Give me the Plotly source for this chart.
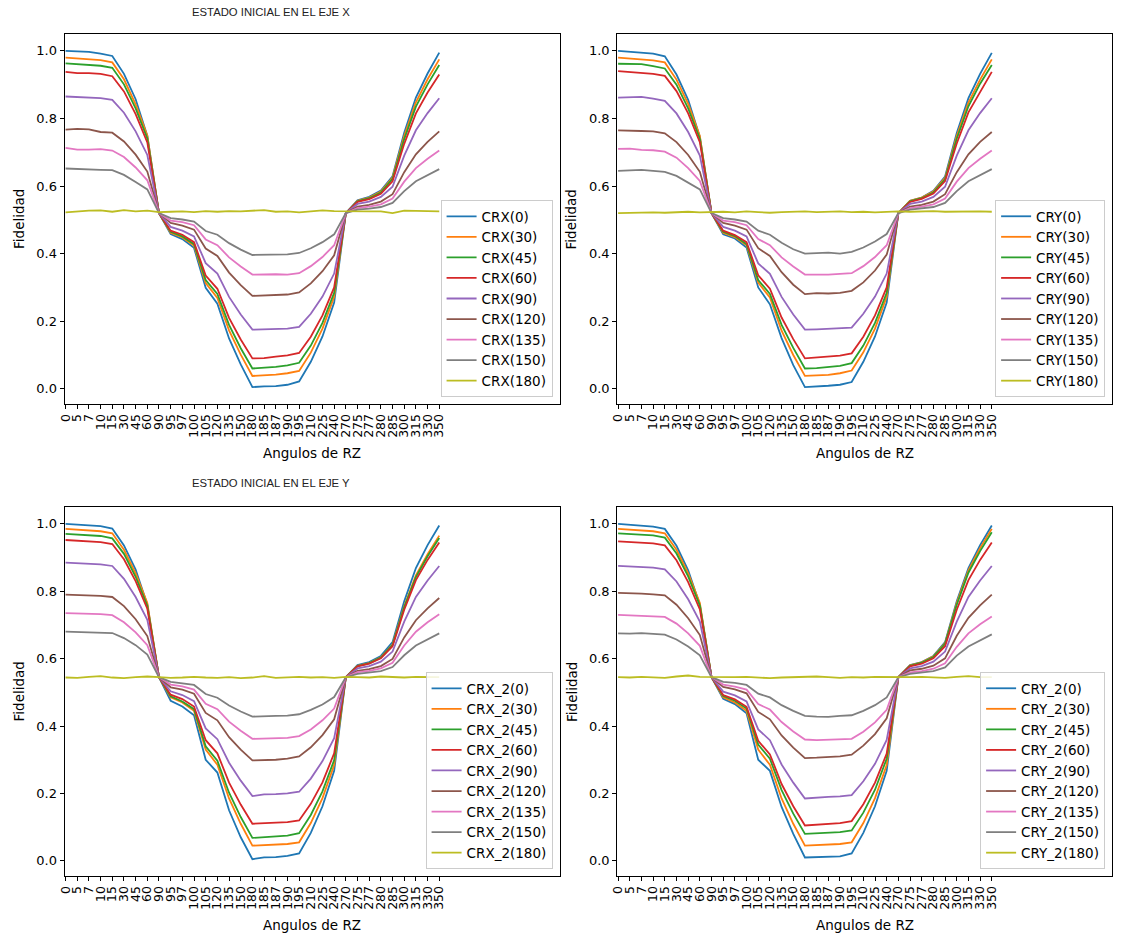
import plotly.graph_objects as go

# ---------------- data ----------------
angles = ["0", "5", "7", "10", "15", "30", "45", "60", "90", "95", "97", "100", "105",
          "120", "135", "150", "180", "185", "187", "190", "195", "210", "225", "240",
          "270", "275", "277", "280", "285", "300", "315", "330", "350"]
gate_angles = ["0", "30", "45", "60", "90", "120", "135", "150", "180"]

# --- CRX (estado inicial eje X) ---
crx_0 = [1.000, 0.998, 0.997, 0.992, 0.985, 0.932, 0.857, 0.748, 0.520, 0.458, 0.443, 0.417, 0.299, 0.252, 0.149, 0.072, 0.005, 0.007, 0.008, 0.012, 0.022, 0.080, 0.155, 0.255, 0.520, 0.558, 0.568, 0.587, 0.629, 0.758, 0.862, 0.933, 0.995]
crx_30 = [0.980, 0.978, 0.977, 0.973, 0.966, 0.916, 0.842, 0.750, 0.520, 0.462, 0.448, 0.424, 0.313, 0.269, 0.173, 0.101, 0.038, 0.039, 0.042, 0.046, 0.053, 0.107, 0.178, 0.272, 0.520, 0.556, 0.566, 0.584, 0.625, 0.748, 0.848, 0.916, 0.975]
crx_45 = [0.963, 0.961, 0.960, 0.956, 0.950, 0.901, 0.830, 0.741, 0.520, 0.465, 0.451, 0.428, 0.322, 0.281, 0.189, 0.120, 0.060, 0.062, 0.065, 0.069, 0.077, 0.128, 0.195, 0.284, 0.520, 0.555, 0.564, 0.581, 0.621, 0.739, 0.835, 0.901, 0.958]
crx_60 = [0.938, 0.934, 0.934, 0.932, 0.925, 0.880, 0.813, 0.729, 0.520, 0.468, 0.456, 0.434, 0.335, 0.296, 0.210, 0.146, 0.090, 0.091, 0.095, 0.099, 0.106, 0.154, 0.217, 0.300, 0.520, 0.553, 0.561, 0.577, 0.614, 0.725, 0.815, 0.877, 0.930]
crx_90 = [0.865, 0.864, 0.863, 0.860, 0.855, 0.817, 0.762, 0.692, 0.520, 0.479, 0.468, 0.451, 0.372, 0.341, 0.272, 0.220, 0.175, 0.176, 0.177, 0.178, 0.183, 0.222, 0.273, 0.341, 0.520, 0.547, 0.554, 0.568, 0.598, 0.690, 0.765, 0.816, 0.860]
crx_120 = [0.767, 0.769, 0.768, 0.760, 0.758, 0.732, 0.693, 0.643, 0.520, 0.491, 0.483, 0.471, 0.415, 0.393, 0.344, 0.307, 0.275, 0.276, 0.278, 0.279, 0.285, 0.312, 0.348, 0.395, 0.520, 0.539, 0.544, 0.554, 0.576, 0.641, 0.694, 0.731, 0.762]
crx_135 = [0.713, 0.708, 0.708, 0.709, 0.705, 0.686, 0.655, 0.617, 0.520, 0.498, 0.493, 0.484, 0.442, 0.425, 0.389, 0.362, 0.338, 0.339, 0.339, 0.338, 0.342, 0.363, 0.390, 0.425, 0.520, 0.535, 0.539, 0.546, 0.563, 0.613, 0.653, 0.681, 0.705]
crx_150 = [0.652, 0.650, 0.648, 0.648, 0.647, 0.633, 0.612, 0.590, 0.520, 0.505, 0.501, 0.495, 0.467, 0.456, 0.431, 0.412, 0.396, 0.397, 0.397, 0.398, 0.402, 0.416, 0.434, 0.457, 0.520, 0.530, 0.533, 0.538, 0.550, 0.585, 0.614, 0.633, 0.650]
crx_180 = [0.522, 0.525, 0.527, 0.528, 0.524, 0.529, 0.525, 0.527, 0.523, 0.524, 0.525, 0.523, 0.526, 0.524, 0.526, 0.525, 0.527, 0.529, 0.524, 0.525, 0.522, 0.525, 0.528, 0.526, 0.525, 0.524, 0.525, 0.525, 0.520, 0.527, 0.526, 0.525, 0.525]

# --- CRY (estado inicial eje X) ---
cry_0 = [1.000, 0.998, 0.996, 0.992, 0.984, 0.930, 0.855, 0.745, 0.520, 0.457, 0.445, 0.418, 0.300, 0.250, 0.150, 0.070, 0.005, 0.006, 0.009, 0.012, 0.020, 0.080, 0.155, 0.255, 0.520, 0.556, 0.566, 0.586, 0.628, 0.757, 0.860, 0.932, 0.994]
cry_30 = [0.980, 0.977, 0.976, 0.972, 0.966, 0.915, 0.843, 0.748, 0.520, 0.462, 0.449, 0.425, 0.314, 0.270, 0.172, 0.100, 0.038, 0.040, 0.041, 0.046, 0.054, 0.108, 0.178, 0.272, 0.520, 0.556, 0.566, 0.584, 0.624, 0.748, 0.847, 0.915, 0.975]
cry_45 = [0.962, 0.961, 0.961, 0.955, 0.948, 0.900, 0.830, 0.740, 0.520, 0.465, 0.452, 0.428, 0.322, 0.281, 0.189, 0.121, 0.060, 0.061, 0.064, 0.068, 0.076, 0.128, 0.195, 0.284, 0.520, 0.555, 0.564, 0.581, 0.620, 0.740, 0.836, 0.903, 0.958]
cry_60 = [0.940, 0.937, 0.936, 0.932, 0.926, 0.881, 0.815, 0.730, 0.520, 0.468, 0.455, 0.434, 0.336, 0.296, 0.211, 0.147, 0.090, 0.092, 0.094, 0.098, 0.105, 0.154, 0.217, 0.300, 0.520, 0.553, 0.562, 0.578, 0.615, 0.726, 0.818, 0.880, 0.938]
cry_90 = [0.862, 0.862, 0.864, 0.859, 0.852, 0.815, 0.760, 0.690, 0.520, 0.479, 0.468, 0.451, 0.371, 0.340, 0.272, 0.220, 0.175, 0.176, 0.178, 0.180, 0.181, 0.222, 0.273, 0.341, 0.520, 0.547, 0.554, 0.568, 0.598, 0.690, 0.765, 0.816, 0.860]
cry_120 = [0.765, 0.765, 0.763, 0.762, 0.756, 0.730, 0.692, 0.642, 0.520, 0.491, 0.483, 0.471, 0.416, 0.393, 0.345, 0.308, 0.280, 0.283, 0.282, 0.284, 0.290, 0.315, 0.350, 0.397, 0.520, 0.539, 0.544, 0.554, 0.576, 0.641, 0.694, 0.731, 0.760]
cry_135 = [0.710, 0.711, 0.707, 0.706, 0.702, 0.684, 0.653, 0.615, 0.520, 0.498, 0.493, 0.484, 0.443, 0.425, 0.389, 0.362, 0.338, 0.337, 0.338, 0.340, 0.342, 0.363, 0.390, 0.425, 0.520, 0.535, 0.539, 0.546, 0.563, 0.613, 0.653, 0.681, 0.705]
cry_150 = [0.645, 0.646, 0.648, 0.645, 0.642, 0.630, 0.610, 0.590, 0.520, 0.505, 0.501, 0.495, 0.468, 0.456, 0.432, 0.413, 0.400, 0.401, 0.403, 0.400, 0.405, 0.418, 0.436, 0.458, 0.520, 0.530, 0.533, 0.538, 0.550, 0.585, 0.614, 0.633, 0.650]
cry_180 = [0.520, 0.521, 0.520, 0.522, 0.521, 0.523, 0.524, 0.522, 0.523, 0.524, 0.522, 0.525, 0.523, 0.521, 0.523, 0.524, 0.525, 0.523, 0.524, 0.525, 0.523, 0.524, 0.522, 0.524, 0.525, 0.524, 0.525, 0.526, 0.524, 0.525, 0.526, 0.525, 0.524]

# --- CRX_2 (estado inicial eje Y) ---
crx2_0 = [1.000, 0.998, 0.997, 0.993, 0.986, 0.936, 0.864, 0.760, 0.545, 0.475, 0.458, 0.432, 0.300, 0.262, 0.150, 0.070, 0.005, 0.010, 0.011, 0.015, 0.022, 0.083, 0.162, 0.267, 0.545, 0.581, 0.590, 0.608, 0.649, 0.770, 0.869, 0.937, 0.995]
crx2_30 = [0.985, 0.983, 0.982, 0.978, 0.972, 0.923, 0.853, 0.765, 0.545, 0.485, 0.470, 0.445, 0.330, 0.285, 0.185, 0.110, 0.045, 0.046, 0.047, 0.050, 0.055, 0.112, 0.186, 0.284, 0.545, 0.579, 0.587, 0.604, 0.642, 0.755, 0.847, 0.910, 0.965]
crx2_45 = [0.970, 0.968, 0.967, 0.964, 0.957, 0.911, 0.843, 0.757, 0.545, 0.488, 0.473, 0.450, 0.340, 0.297, 0.202, 0.130, 0.068, 0.070, 0.072, 0.075, 0.082, 0.136, 0.206, 0.299, 0.545, 0.578, 0.586, 0.603, 0.640, 0.752, 0.842, 0.904, 0.958]
crx2_60 = [0.952, 0.950, 0.949, 0.946, 0.940, 0.895, 0.830, 0.748, 0.545, 0.493, 0.480, 0.458, 0.358, 0.319, 0.232, 0.167, 0.110, 0.111, 0.112, 0.115, 0.120, 0.169, 0.233, 0.319, 0.545, 0.577, 0.585, 0.601, 0.637, 0.745, 0.833, 0.893, 0.945]
crx2_90 = [0.885, 0.883, 0.883, 0.880, 0.875, 0.837, 0.783, 0.715, 0.545, 0.503, 0.492, 0.474, 0.393, 0.361, 0.291, 0.238, 0.192, 0.197, 0.198, 0.200, 0.205, 0.244, 0.296, 0.364, 0.545, 0.571, 0.578, 0.591, 0.621, 0.710, 0.783, 0.832, 0.875]
crx2_120 = [0.790, 0.789, 0.788, 0.786, 0.783, 0.756, 0.717, 0.667, 0.545, 0.515, 0.508, 0.496, 0.439, 0.417, 0.367, 0.330, 0.298, 0.298, 0.300, 0.303, 0.310, 0.337, 0.373, 0.420, 0.545, 0.564, 0.569, 0.578, 0.599, 0.663, 0.714, 0.749, 0.780]
crx2_135 = [0.735, 0.734, 0.734, 0.732, 0.729, 0.708, 0.678, 0.640, 0.545, 0.523, 0.518, 0.508, 0.466, 0.450, 0.413, 0.386, 0.362, 0.363, 0.362, 0.365, 0.370, 0.390, 0.417, 0.452, 0.545, 0.560, 0.564, 0.571, 0.588, 0.639, 0.680, 0.708, 0.732]
crx2_150 = [0.680, 0.679, 0.679, 0.677, 0.676, 0.661, 0.640, 0.612, 0.545, 0.531, 0.527, 0.522, 0.495, 0.484, 0.461, 0.443, 0.428, 0.428, 0.430, 0.431, 0.435, 0.448, 0.464, 0.486, 0.545, 0.555, 0.558, 0.563, 0.575, 0.610, 0.639, 0.658, 0.675]
crx2_180 = [0.544, 0.543, 0.546, 0.548, 0.544, 0.542, 0.545, 0.547, 0.545, 0.543, 0.544, 0.546, 0.544, 0.543, 0.545, 0.542, 0.544, 0.548, 0.543, 0.545, 0.546, 0.544, 0.545, 0.543, 0.546, 0.545, 0.544, 0.547, 0.545, 0.544, 0.546, 0.545, 0.545]

# --- CRY_2 (estado inicial eje Y) ---
cry2_0 = [1.000, 0.998, 0.996, 0.992, 0.985, 0.935, 0.862, 0.760, 0.545, 0.481, 0.465, 0.438, 0.300, 0.267, 0.160, 0.080, 0.010, 0.011, 0.013, 0.013, 0.022, 0.083, 0.162, 0.267, 0.545, 0.581, 0.590, 0.608, 0.649, 0.770, 0.869, 0.937, 0.995]
cry2_30 = [0.985, 0.983, 0.982, 0.978, 0.972, 0.923, 0.853, 0.765, 0.545, 0.485, 0.470, 0.445, 0.330, 0.285, 0.185, 0.110, 0.045, 0.047, 0.048, 0.050, 0.055, 0.112, 0.186, 0.284, 0.545, 0.580, 0.589, 0.607, 0.646, 0.765, 0.862, 0.928, 0.985]
cry2_45 = [0.972, 0.970, 0.969, 0.966, 0.959, 0.912, 0.844, 0.758, 0.545, 0.489, 0.475, 0.452, 0.345, 0.303, 0.210, 0.140, 0.080, 0.081, 0.083, 0.085, 0.090, 0.143, 0.211, 0.303, 0.545, 0.579, 0.588, 0.605, 0.644, 0.760, 0.855, 0.919, 0.975]
cry2_60 = [0.948, 0.946, 0.945, 0.942, 0.936, 0.892, 0.827, 0.746, 0.545, 0.492, 0.479, 0.457, 0.356, 0.316, 0.228, 0.162, 0.105, 0.107, 0.108, 0.112, 0.118, 0.168, 0.232, 0.318, 0.545, 0.577, 0.585, 0.601, 0.637, 0.745, 0.833, 0.893, 0.945]
cry2_90 = [0.875, 0.873, 0.873, 0.870, 0.865, 0.829, 0.776, 0.710, 0.545, 0.502, 0.491, 0.473, 0.390, 0.358, 0.286, 0.232, 0.185, 0.188, 0.190, 0.191, 0.195, 0.236, 0.288, 0.359, 0.545, 0.571, 0.578, 0.591, 0.621, 0.710, 0.783, 0.832, 0.875]
cry2_120 = [0.795, 0.795, 0.793, 0.791, 0.788, 0.760, 0.720, 0.670, 0.545, 0.516, 0.509, 0.497, 0.442, 0.420, 0.372, 0.336, 0.305, 0.306, 0.308, 0.310, 0.315, 0.342, 0.376, 0.423, 0.545, 0.565, 0.570, 0.579, 0.601, 0.668, 0.721, 0.758, 0.790]
cry2_135 = [0.730, 0.729, 0.728, 0.727, 0.724, 0.704, 0.675, 0.638, 0.545, 0.523, 0.517, 0.508, 0.465, 0.449, 0.412, 0.384, 0.360, 0.358, 0.359, 0.360, 0.362, 0.383, 0.411, 0.448, 0.545, 0.559, 0.563, 0.570, 0.586, 0.635, 0.675, 0.702, 0.725]
cry2_150 = [0.675, 0.674, 0.676, 0.673, 0.671, 0.657, 0.636, 0.610, 0.545, 0.531, 0.528, 0.522, 0.496, 0.485, 0.462, 0.445, 0.430, 0.428, 0.427, 0.430, 0.432, 0.445, 0.462, 0.485, 0.545, 0.555, 0.558, 0.563, 0.574, 0.609, 0.636, 0.655, 0.672]
cry2_180 = [0.545, 0.544, 0.546, 0.545, 0.543, 0.547, 0.550, 0.546, 0.545, 0.544, 0.545, 0.546, 0.543, 0.542, 0.544, 0.545, 0.546, 0.547, 0.545, 0.543, 0.545, 0.544, 0.546, 0.545, 0.544, 0.545, 0.546, 0.545, 0.543, 0.546, 0.548, 0.545, 0.545]

# ---------------- figure ----------------
W, H = 1122, 938
colors = ["#1f77b4", "#ff7f0e", "#2ca02c", "#d62728", "#9467bd",
          "#8c564b", "#e377c2", "#7f7f7f", "#bcbd22"]
FONT = "DejaVu Sans"

panels = [
    ("CRX", [crx_0, crx_30, crx_45, crx_60, crx_90, crx_120, crx_135, crx_150, crx_180]),
    ("CRY", [cry_0, cry_30, cry_45, cry_60, cry_90, cry_120, cry_135, cry_150, cry_180]),
    ("CRX_2", [crx2_0, crx2_30, crx2_45, crx2_60, crx2_90, crx2_120, crx2_135, crx2_150, crx2_180]),
    ("CRY_2", [cry2_0, cry2_30, cry2_45, cry2_60, cry2_90, cry2_120, cry2_135, cry2_150, cry2_180]),
]

# frame boxes in pixels: (left, right, top, bottom)
boxes = [(58, 556, 34, 404), (614, 1112, 34, 404),
         (58, 556, 507, 876), (614, 1112, 507, 876)]

fig = go.Figure()
layout = dict(width=W, height=H, margin=dict(l=0, r=0, t=0, b=0),
              paper_bgcolor="white", plot_bgcolor="white",
              font=dict(family=FONT, size=13, color="#000000"),
              showlegend=True)
annotations = []

for i, ((prefix, series), (l, r, t, b)) in enumerate(zip(panels, boxes)):
    n = i + 1
    xa = "x" if n == 1 else f"x{n}"
    ya = "y" if n == 1 else f"y{n}"
    lg = "legend" if n == 1 else f"legend{n}"
    for k, (ga, vals) in enumerate(zip(gate_angles, series)):
        fig.add_trace(go.Scatter(
            x=angles, y=vals, mode="lines", name=f"{prefix}({ga})",
            line=dict(color=colors[k], width=1.8),
            xaxis=xa, yaxis=ya, legend=lg))
    xkey = "xaxis" if n == 1 else f"xaxis{n}"
    ykey = "yaxis" if n == 1 else f"yaxis{n}"
    layout[xkey] = dict(
        domain=[l / W, r / W], anchor=ya, type="category",
        categoryorder="array", categoryarray=angles,
        tickmode="array", tickvals=angles, ticktext=angles,
        range=[-0.08, 42.3], tickangle=-90,
        showline=True, mirror=True, linecolor="#000000", linewidth=1,
        ticks="outside", ticklen=4, tickwidth=1, tickcolor="#000000",
        showgrid=False, zeroline=False,
        tickfont=dict(family=FONT, size=12.5, color="#000000"))
    layout[ykey] = dict(
        domain=[1 - b / H, 1 - t / H], anchor=xa,
        range=[-0.045, 1.05], tickvals=[0, 0.2, 0.4, 0.6, 0.8, 1.0],
        ticktext=["0.0", "0.2", "0.4", "0.6", "0.8", "1.0"],
        showline=True, mirror=True, linecolor="#000000", linewidth=1,
        ticks="outside", ticklen=4, tickwidth=1, tickcolor="#000000",
        showgrid=False, zeroline=False,
        tickfont=dict(family=FONT, size=13, color="#000000"))
    layout[lg] = dict(
        x=(r - 7) / W, y=1 - (b - 7) / H, xanchor="right", yanchor="bottom",
        bgcolor="rgba(255,255,255,0.85)", bordercolor="#cccccc", borderwidth=1,
        font=dict(family=FONT, size=13.5, color="#000000"),
        tracegroupgap=0, itemwidth=30, entrywidth=82, entrywidthmode="pixels")
    # axis titles
    annotations.append(dict(text="Angulos de RZ", xref="paper", yref="paper",
                            x=(l + r) / 2 / W, y=1 - (b + 49) / H,
                            showarrow=False, xanchor="center", yanchor="middle",
                            font=dict(family=FONT, size=13.5, color="#000000")))
    annotations.append(dict(text="Fidelidad", xref="paper", yref="paper",
                            x=(l - 46) / W, y=1 - (t + b) / 2 / H, textangle=-90,
                            showarrow=False, xanchor="center", yanchor="middle",
                            font=dict(family=FONT, size=13.5, color="#000000")))

annotations.append(dict(text="ESTADO INICIAL EN EL EJE X", xref="paper", yref="paper",
                        x=266 / W, y=1 - 12 / H, showarrow=False,
                        xanchor="center", yanchor="middle",
                        font=dict(family="Liberation Sans", size=11.3, color="#222222")))
annotations.append(dict(text="ESTADO INICIAL EN EL EJE Y", xref="paper", yref="paper",
                        x=266 / W, y=1 - 483 / H, showarrow=False,
                        xanchor="center", yanchor="middle",
                        font=dict(family="Liberation Sans", size=11.3, color="#222222")))
layout["annotations"] = annotations
fig.update_layout(**layout)
fig.write_html("out.html")
